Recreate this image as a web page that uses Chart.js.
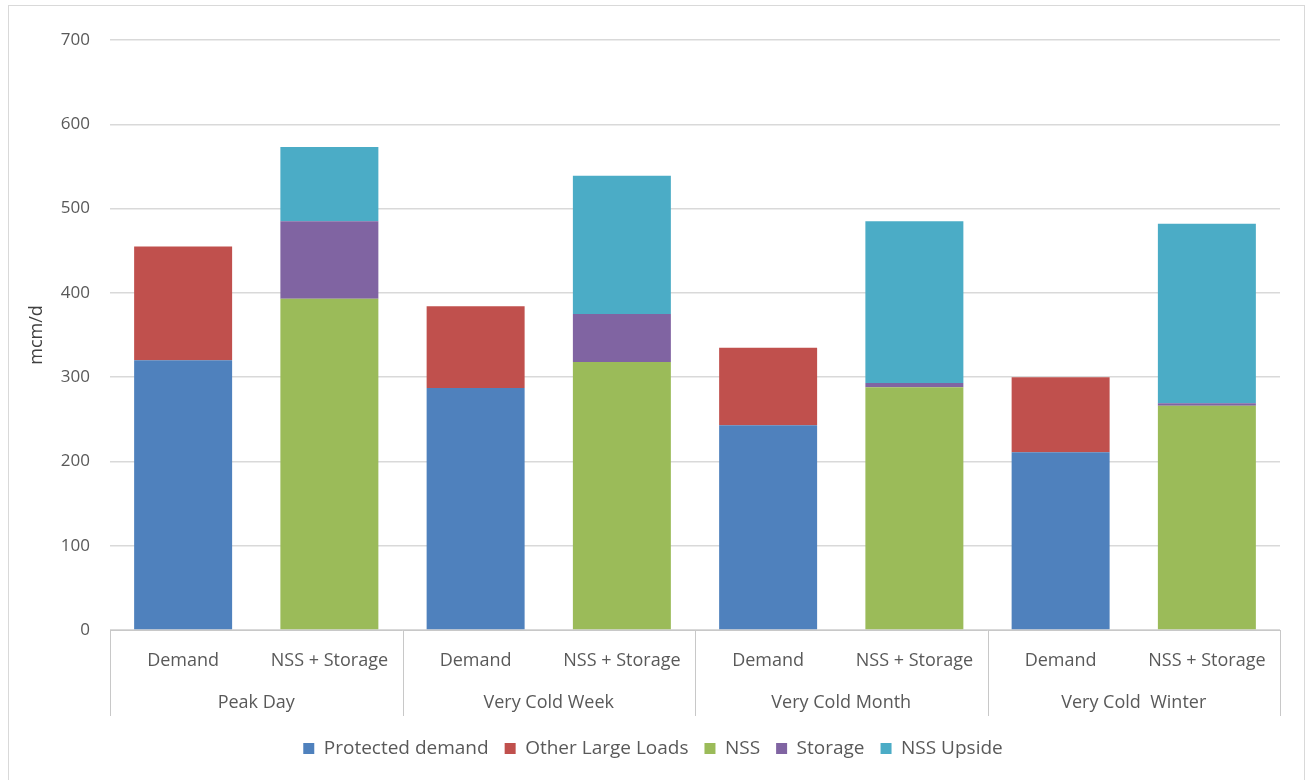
<!DOCTYPE html>
<html>
<head>
<meta charset="utf-8">
<script src="https://cdn.jsdelivr.net/npm/chart.js@4.4.1/dist/chart.umd.min.js"></script>
<style>
  html, body { margin: 0; padding: 0; background: #ffffff; }
  #wrap { position: relative; width: 1306px; height: 780px; }
  canvas { display: block; }
</style>
</head>
<body>
<div id="wrap"><canvas id="c" width="1306" height="780"></canvas></div>
<script>
// Supply/demand balance by weather scenario (mcm/d)
const groups = ['Peak Day', 'Very Cold Week', 'Very Cold Month', 'Very Cold  Winter'];
const subLabels = ['Demand', 'NSS + Storage', 'Demand', 'NSS + Storage', 'Demand', 'NSS + Storage', 'Demand', 'NSS + Storage'];

const protectedDemand = [320, null, 287, null, 243, null, 211, null];
const otherLargeLoads = [135, null, 97, null, 92, null, 89, null];
const nss             = [null, 393, null, 318, null, 288, null, 266];
const storage         = [null, 92, null, 57, null, 5, null, 3];
const nssUpside       = [null, 88, null, 164, null, 192, null, 213];

const yTicks = [0, 100, 200, 300, 400, 500, 600, 700];

const FONT = '"Open Sans", "Liberation Sans", sans-serif';
const TEXT = '#595959';

// Draws the outer frame, the grouped category axis box and the group names
const groupAxis = {
  id: 'groupAxis',
  beforeDraw(chart) {
    const ctx = chart.ctx;
    ctx.save();
    ctx.strokeStyle = '#d9d9d9';
    ctx.lineWidth = 1;
    ctx.strokeRect(8.5, 5.5, 1296, 790);
    ctx.restore();
  },
  afterDraw(chart) {
    const ctx = chart.ctx;
    const x = chart.scales.x;
    const area = chart.chartArea;
    const bottom = area.bottom + 86;
    ctx.save();
    ctx.strokeStyle = '#c8c8c8';
    ctx.lineWidth = 1;
    // axis baseline
    ctx.beginPath();
    ctx.moveTo(area.left, Math.round(area.bottom) + 0.5);
    ctx.lineTo(area.right, Math.round(area.bottom) + 0.5);
    ctx.stroke();
    // group separators
    const edges = [area.left];
    for (let g = 1; g < groups.length; g++) {
      edges.push((x.getPixelForValue(g * 2 - 1) + x.getPixelForValue(g * 2)) / 2);
    }
    edges.push(area.right);
    ctx.beginPath();
    edges.forEach(e => {
      const px = Math.round(e) + 0.5;
      ctx.moveTo(px, area.bottom);
      ctx.lineTo(px, bottom);
    });
    ctx.stroke();
    // group names
    ctx.fillStyle = TEXT;
    ctx.font = '18px ' + FONT;
    ctx.textAlign = 'center';
    ctx.textBaseline = 'middle';
    groups.forEach((name, g) => {
      const cx = (x.getPixelForValue(g * 2) + x.getPixelForValue(g * 2 + 1)) / 2;
      ctx.fillText(name, cx, area.bottom + 73);
    });
    ctx.restore();
  }
};

const ds = (label, data, color) => ({
  label, data, backgroundColor: color, borderWidth: 0,
  barPercentage: 0.67, categoryPercentage: 1.0, stack: 's'
});

new Chart(document.getElementById('c'), {
  type: 'bar',
  data: {
    labels: subLabels,
    datasets: [
      ds('Protected demand', protectedDemand, '#4f81bd'),
      ds('Other Large Loads', otherLargeLoads, '#c0504d'),
      ds('NSS', nss, '#9bbb59'),
      ds('Storage', storage, '#8064a2'),
      ds('NSS Upside', nssUpside, '#4bacc6')
    ]
  },
  options: {
    responsive: false,
    animation: false,
    devicePixelRatio: 1,
    layout: { padding: { left: 26, right: 26, top: 40, bottom: 12 } },
    plugins: {
      legend: {
        position: 'bottom',
        labels: {
          boxWidth: 11, boxHeight: 11, padding: 16,
          color: TEXT, font: { family: FONT, size: 19 }
        }
      },
      tooltip: { enabled: false }
    },
    scales: {
      x: {
        stacked: true,
        grid: { display: false, drawTicks: false },
        border: { display: false },
        ticks: { color: TEXT, font: { family: FONT, size: 18 }, padding: 20, maxRotation: 0, autoSkip: false },
        afterFit(scale) { scale.height = 93; }
      },
      y: {
        stacked: true,
        min: 0, max: 700,
        afterBuildTicks(scale) { scale.ticks = yTicks.map(v => ({ value: v })); },
        grid: { color: '#d9d9d9', lineWidth: 1.5, drawTicks: false },
        border: { display: false },
        ticks: { color: TEXT, font: { family: FONT, size: 17 }, padding: 20 },
        title: { display: true, text: 'mcm/d', color: '#404040', font: { family: FONT, size: 18 }, padding: { top: 0, bottom: 0 } },
        afterFit(scale) { scale.width = 84; }
      }
    }
  },
  plugins: [groupAxis]
});
</script>
</body>
</html>
